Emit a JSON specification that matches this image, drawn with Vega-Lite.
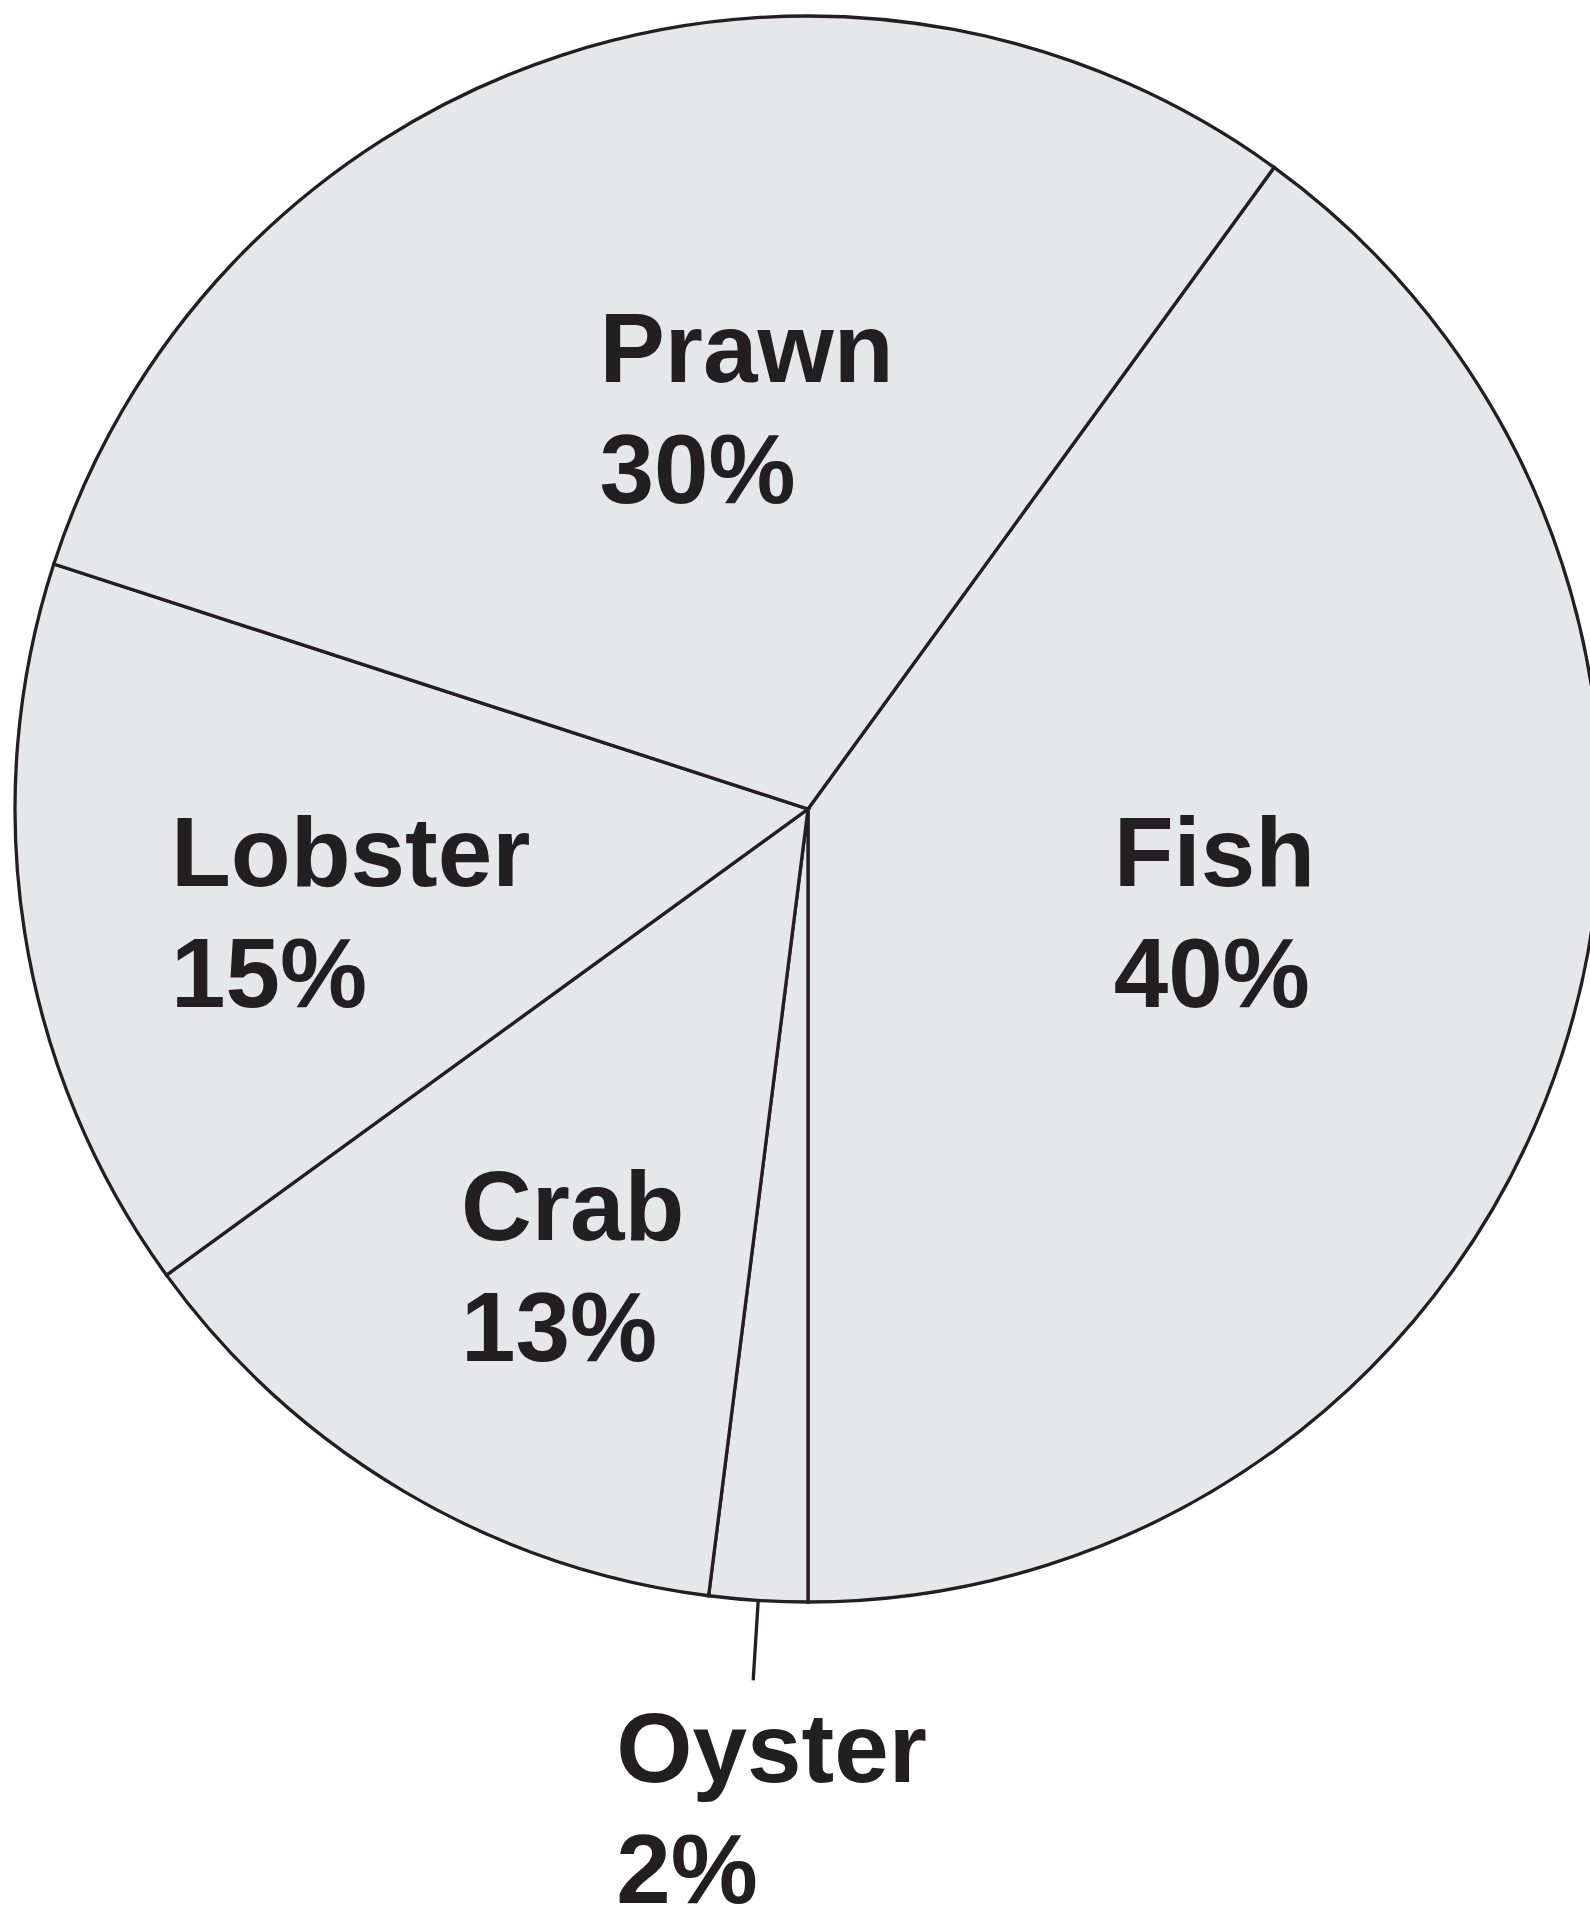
{
  "$schema": "https://vega.github.io/schema/vega-lite/v6.json",
  "autosize": {"type": "none"},
  "width": 1564,
  "height": 1618,
  "padding": {"left": 26, "top": 0, "right": 0, "bottom": 295},
  "background": "white",
  "data": {
    "values": [
      {"category": "Fish", "value": 40, "order": 1, "label": "Fish\n40%"},
      {"category": "Oyster", "value": 2, "order": 2, "label": "Oyster\n2%"},
      {"category": "Crab", "value": 13, "order": 3, "label": "Crab\n13%"},
      {"category": "Lobster", "value": 15, "order": 4, "label": "Lobster\n15%"},
      {"category": "Prawn", "value": 30, "order": 5, "label": "Prawn\n30%"}
    ]
  },
  "encoding": {
    "theta": {"field": "value", "type": "quantitative", "stack": true, "scale": {"domain": [0, 100], "range": [0.6283, 6.9115]}},
    "order": {"field": "order", "type": "quantitative"}
  },
  "layer": [
    {
      "mark": {"type": "arc", "radius": 793, "fill": "#e6e7e8", "stroke": "#231f20", "strokeWidth": 3.3}
    },
    {
      "mark": {"type": "arc", "radius": 793, "radius2": 873, "padAngle": 0.3, "fillOpacity": 0, "stroke": "#231f20", "strokeWidth": 3.3},
      "encoding": {
        "strokeOpacity": {"condition": {"test": "datum.category === 'Oyster'", "value": 1}, "value": 0}
      }
    },
    {
      "mark": {"type": "text", "radius": 314, "dx": 7, "dy": -20, "align": "left", "baseline": "alphabetic", "lineBreak": "\n", "lineHeight": 121, "font": "Liberation Sans", "fontWeight": "bold", "fontSize": 98, "fill": "#231f20"},
      "encoding": {"text": {"condition": {"test": "datum.category === 'Fish'", "field": "label"}, "value": ""}}
    },
    {
      "mark": {"type": "text", "radius": 983, "dx": -130, "dy": -8, "align": "left", "baseline": "alphabetic", "lineBreak": "\n", "lineHeight": 121, "font": "Liberation Sans", "fontWeight": "bold", "fontSize": 98, "fill": "#231f20"},
      "encoding": {"text": {"condition": {"test": "datum.category === 'Oyster'", "field": "label"}, "value": ""}}
    },
    {
      "mark": {"type": "text", "radius": 548, "dx": -68, "dy": -41, "align": "left", "baseline": "alphabetic", "lineBreak": "\n", "lineHeight": 121, "font": "Liberation Sans", "fontWeight": "bold", "fontSize": 98, "fill": "#231f20"},
      "encoding": {"text": {"condition": {"test": "datum.category === 'Crab'", "field": "label"}, "value": ""}}
    },
    {
      "mark": {"type": "text", "radius": 643, "dx": -2, "dy": -24, "align": "left", "baseline": "alphabetic", "lineBreak": "\n", "lineHeight": 121, "font": "Liberation Sans", "fontWeight": "bold", "fontSize": 98, "fill": "#231f20"},
      "encoding": {"text": {"condition": {"test": "datum.category === 'Lobster'", "field": "label"}, "value": ""}}
    },
    {
      "mark": {"type": "text", "radius": 471, "dx": -63, "dy": 21, "align": "left", "baseline": "alphabetic", "lineBreak": "\n", "lineHeight": 121, "font": "Liberation Sans", "fontWeight": "bold", "fontSize": 98, "fill": "#231f20"},
      "encoding": {"text": {"condition": {"test": "datum.category === 'Prawn'", "field": "label"}, "value": ""}}
    }
  ],
  "config": {"view": {"stroke": null}}
}
